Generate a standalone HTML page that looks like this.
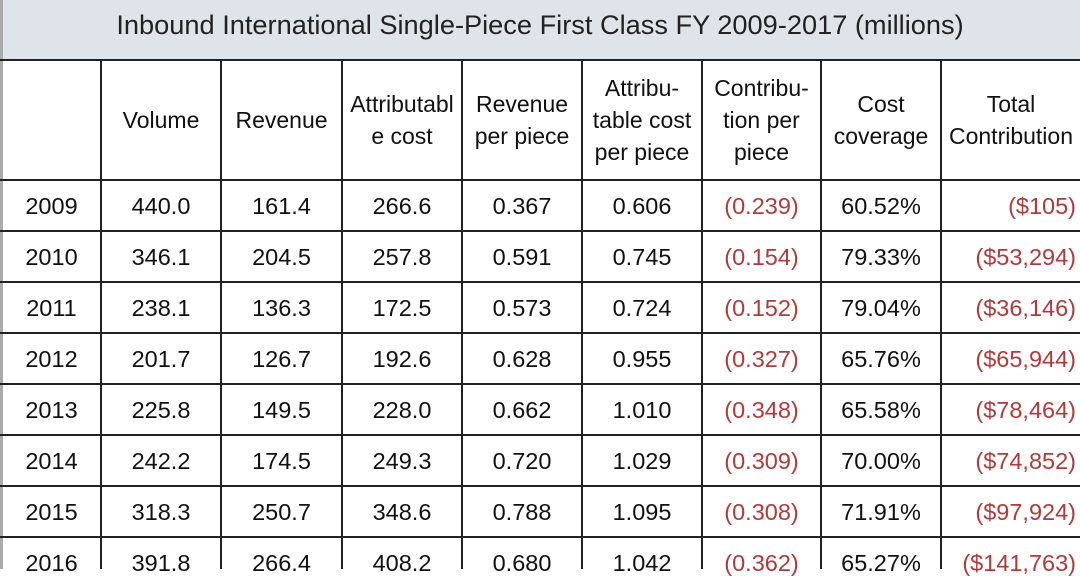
<!DOCTYPE html><html><head><style>
body{margin:0;width:1080px;height:569px;overflow:hidden;background:#fff;font-family:"Liberation Sans",Arial,sans-serif;position:relative}
.t{position:absolute;left:0;top:0;width:1080px;height:59px;background:#dfe4ea;text-align:center;line-height:50px;font-size:27.2px;color:#222}
.h,.v{position:absolute;background:#222}
.c{position:absolute;text-align:center;font-size:23.5px;color:#111;white-space:nowrap}
.r{color:#b03a3a}
.hd{position:absolute;top:60px;height:120px;display:flex;align-items:center;justify-content:center;text-align:center;font-size:23px;line-height:32px;color:#111;white-space:nowrap}
</style></head><body>
<div class="t">Inbound International Single-Piece First Class FY 2009-2017 (millions)</div>
<div class="v" style="left:0;top:0;width:3px;height:569px;background:#aaa"></div>
<div class="h" style="left:0;top:59px;width:1080px;height:2px"></div>
<div class="h" style="left:0;top:179px;width:1080px;height:2px"></div>
<div class="h" style="left:0;top:230px;width:1080px;height:2px"></div>
<div class="h" style="left:0;top:281px;width:1080px;height:2px"></div>
<div class="h" style="left:0;top:332px;width:1080px;height:2px"></div>
<div class="h" style="left:0;top:383px;width:1080px;height:2px"></div>
<div class="h" style="left:0;top:434px;width:1080px;height:2px"></div>
<div class="h" style="left:0;top:485px;width:1080px;height:2px"></div>
<div class="h" style="left:0;top:536px;width:1080px;height:2px"></div>
<div class="v" style="left:100px;top:60px;width:2px;height:509px"></div>
<div class="v" style="left:220px;top:60px;width:2px;height:509px"></div>
<div class="v" style="left:341px;top:60px;width:2px;height:509px"></div>
<div class="v" style="left:461px;top:60px;width:2px;height:509px"></div>
<div class="v" style="left:581px;top:60px;width:2px;height:509px"></div>
<div class="v" style="left:701px;top:60px;width:2px;height:509px"></div>
<div class="v" style="left:820px;top:60px;width:2px;height:509px"></div>
<div class="v" style="left:940px;top:60px;width:2px;height:509px"></div>
<div class="hd" style="left:102px;width:118px">Volume</div>
<div class="hd" style="left:222px;width:119px">Revenue</div>
<div class="hd" style="left:343px;width:118px">Attributabl<br>e cost</div>
<div class="hd" style="left:463px;width:118px">Revenue<br>per piece</div>
<div class="hd" style="left:583px;width:118px">Attribu-<br>table cost<br>per piece</div>
<div class="hd" style="left:703px;width:117px">Contribu-<br>tion per<br>piece</div>
<div class="hd" style="left:822px;width:118px">Cost<br>coverage</div>
<div class="hd" style="left:942px;width:138px">Total<br>Contribution</div>
<div id="rows"></div>
<script>
var d=[["2009","440.0","161.4","266.6","0.367","0.606","(0.239)","60.52%","($105)"],
["2010","346.1","204.5","257.8","0.591","0.745","(0.154)","79.33%","($53,294)"],
["2011","238.1","136.3","172.5","0.573","0.724","(0.152)","79.04%","($36,146)"],
["2012","201.7","126.7","192.6","0.628","0.955","(0.327)","65.76%","($65,944)"],
["2013","225.8","149.5","228.0","0.662","1.010","(0.348)","65.58%","($78,464)"],
["2014","242.2","174.5","249.3","0.720","1.029","(0.309)","70.00%","($74,852)"],
["2015","318.3","250.7","348.6","0.788","1.095","(0.308)","71.91%","($97,924)"],
["2016","391.8","266.4","408.2","0.680","1.042","(0.362)","65.27%","($141,763)"]];
var L=[3,102,222,343,463,583,703,822,942],W=[97,118,119,118,118,118,117,118,134],h="";
d.forEach(function(r,i){var y=181+i*51;r.forEach(function(v,j){
var cls="c"+((j==6||j==8)?" r":"");var st="left:"+L[j]+"px;width:"+W[j]+"px;top:"+(y+12)+"px;";
if(j==8)st+="text-align:right;";h+='<div class="'+cls+'" style="'+st+'">'+v+'</div>';});});
document.getElementById("rows").innerHTML=h;
</script>
</body></html>
